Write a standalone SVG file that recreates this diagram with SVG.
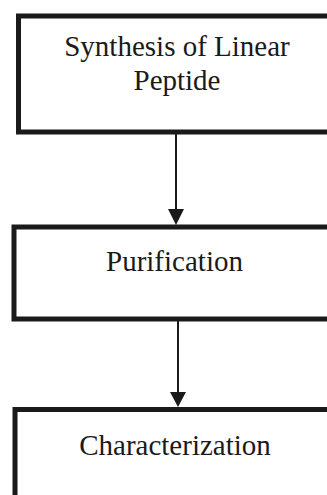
<svg xmlns="http://www.w3.org/2000/svg" width="327" height="495" viewBox="0 0 327 495">
<style>
.box{fill:#fff;stroke:#1a1a1a;stroke-width:5}
.lbl{font-family:"Liberation Serif","Times New Roman",serif;font-size:29px;fill:#1a1a1a;text-anchor:middle}
.conn{stroke:#1a1a1a;stroke-width:2;fill:none}
.head{fill:#1a1a1a}
</style>
<rect width="327" height="495" fill="#fff"/>
<g id="node-synthesis">
<rect class="box" x="18.5" y="16" width="340" height="116"/>
<text class="lbl" x="177" y="56">Synthesis of Linear</text>
<text class="lbl" x="177" y="90">Peptide</text>
</g>
<g id="node-purification">
<rect class="box" x="14" y="227" width="340" height="92"/>
<text class="lbl" x="174.5" y="271">Purification</text>
</g>
<g id="node-characterization">
<rect class="box" x="15" y="409.5" width="340" height="120"/>
<text class="lbl" x="175" y="455">Characterization</text>
</g>
<g id="connectors">
<line class="conn" x1="176" y1="134" x2="176" y2="210"/>
<polygon class="head" points="168,209 184,209 176,225"/>
<line class="conn" x1="178" y1="321" x2="178" y2="393"/>
<polygon class="head" points="170,392 186,392 178,407"/>
</g>
</svg>
